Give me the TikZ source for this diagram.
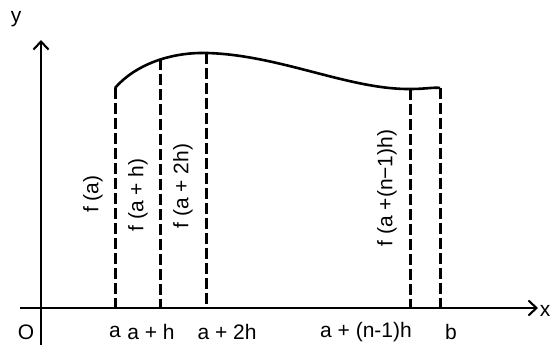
\documentclass[tikz,border=0pt]{standalone}
\usepackage{fontspec}
\setmainfont{Liberation Sans}
\usetikzlibrary{arrows.meta,intersections}

\begin{document}
\begin{tikzpicture}[x=1pt, y=-1pt, line join=round,
    every node/.style={font=\fontsize{21}{24}\selectfont},
    axis/.style={line width=2.1pt, -{Straight Barb[length=8pt,width=15pt,line width=2.1pt]}},
    ordinate/.style={line width=3pt, dash pattern=on 11pt off 4pt},
    curve/.style={line width=2.6pt}]

    \useasboundingbox (0,0) rectangle (551,358);

    % axes
    \coordinate (xs) at (20,308);
    \coordinate (xe) at (538,308);
    \coordinate (ys) at (41,345);
    \coordinate (ye) at (41,40);
    \draw[axis] (xs) -- (xe);
    \draw[axis] (ys) -- (ye);
    \node (xlab) at (545,311) {x};
    \node (ylab) at (16,19) {y};
    \node (olab) at (26,332) {O};

    % the curve
    \coordinate (fa) at (115,88);
    \coordinate (fb) at (440,88);
    \path[name path=curve] (fa) .. controls (135,65) and (170,52) .. (207,53)
        .. controls (280,55) and (350,90) .. (411,89)
        .. controls (425,89) and (435,87) .. (fb);

    % ordinates down to the x axis
    \foreach \p/\x in {fah/161, fa2h/207, fan/411} {
        \path[name path=v\p] (\x,40) -- (\x,308);
        \path[name intersections={of=curve and v\p, by=\p}];
    }
    \foreach \p in {fa,fah,fa2h,fan,fb}
        \draw[ordinate] (\p) -- (\p |- xs);
    \draw[curve] (fa) .. controls (135,65) and (170,52) .. (207,53)
        .. controls (280,55) and (350,90) .. (411,89)
        .. controls (425,89) and (435,87) .. (fb);

    % labels under the axis
    \node (la)  at (115,332) {a};
    \node (lah) at (151,332) {a + h};
    \node (la2h) at (227,332) {a + 2h};
    \node (lan) at (366,332) {a + (n-1)h};
    \node (lb)  at (451,332) {b};

    % ordinate labels
    \node[rotate=90] (ta)  at (93,194)  {f (a)};
    \node[rotate=90] (tah) at (138,195) {f (a + h)};
    \node[rotate=90] (ta2h) at (183,186) {f (a + 2h)};
    \node[rotate=90] (tan) at (387,188) {f (a +(n−1)h)};
\end{tikzpicture}
\end{document}
